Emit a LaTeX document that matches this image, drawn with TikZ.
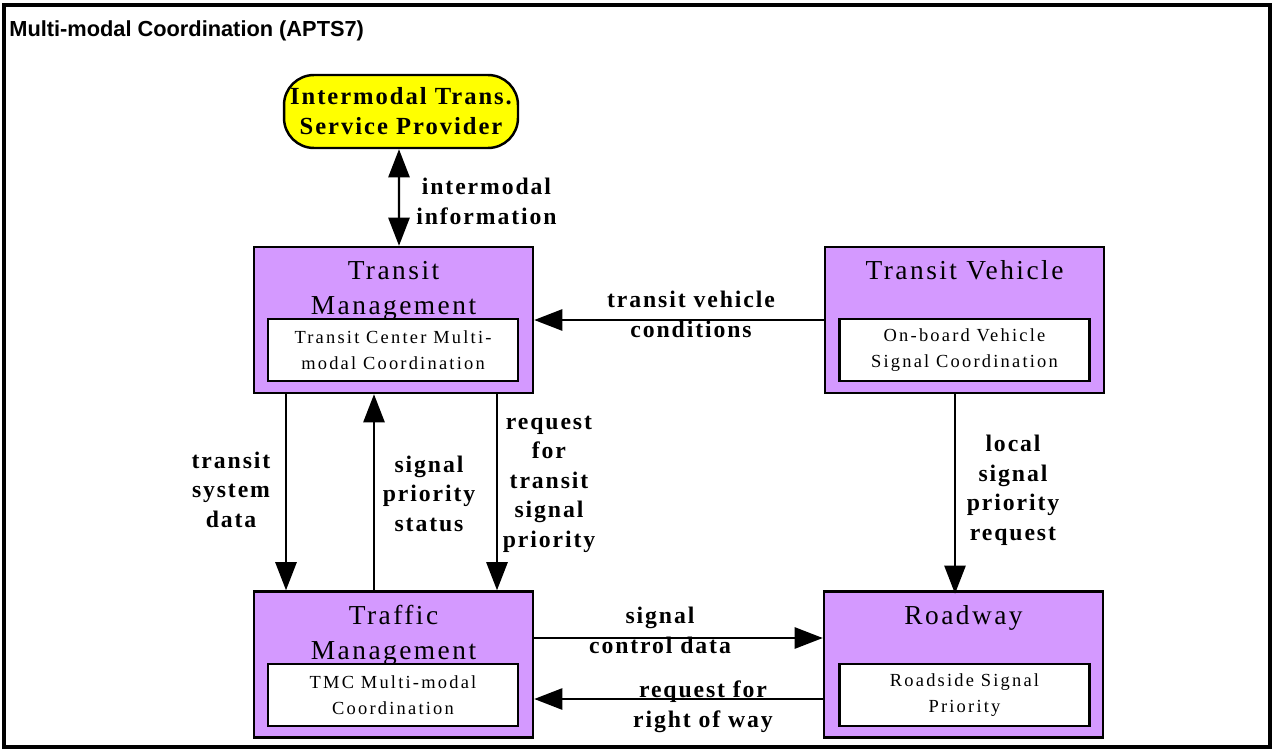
\documentclass[tikz,border=0pt]{standalone}
\usepackage{fontspec}
\setmainfont{Liberation Serif}
\newfontfamily\titlefont{Liberation Sans}
\newfontfamily\boxfont[LetterSpace=9]{Liberation Serif}
\newfontfamily\pkgfont[LetterSpace=12]{Liberation Serif}
\newfontfamily\flowfont[LetterSpace=8]{Liberation Serif}
\usetikzlibrary{arrows.meta, calc}
\definecolor{sysfill}{RGB}{212,153,255}
\definecolor{termfill}{RGB}{255,255,0}

\begin{document}
\begin{tikzpicture}
      [x=.02cm,y=-.02cm
      ,sys/.style={draw,fill=sysfill,line width=1.4pt,minimum width=5.58cm,minimum height=2.92cm,inner sep=0}
      ,term/.style={draw,fill=termfill,line width=1.4pt,rounded corners=.6cm,minimum width=4.68cm,minimum height=1.46cm,inner sep=0
                   ,align=center,font=\flowfont\bfseries\fontsize{14}{17}\selectfont}
      ,pkg/.style={draw,fill=white,line width=1.4pt,minimum width=5cm,minimum height=1.25cm,inner sep=0
                  ,align=center,font=\pkgfont\fontsize{10.5}{14.8}\selectfont}
      ,ttl/.style={anchor=base,inner sep=0,align=center,font=\boxfont\fontsize{15.6}{19.8}\selectfont}
      ,lbl/.style={anchor=base,inner sep=0,align=center,font=\flowfont\bfseries\fontsize{13.5}{16.7}\selectfont}
      ,flow/.style={line width=1.4pt,-{Triangle[length=16pt,width=12pt]}}
      ,both/.style={line width=1.4pt,{Triangle[length=16pt,width=12pt]}-{Triangle[length=16pt,width=12pt]}}]
        \useasboundingbox (0,0) rectangle (1274,750);
        \draw[line width=2pt] (4,5) rectangle (1270,747);
        \node[anchor=base west,inner sep=0,font=\titlefont\bfseries\fontsize{12.4}{14}\selectfont]
          (title) at (9,37) {Multi-modal Coordination (APTS7)};
        % terminator and systems
        \node[term] (itsp) at (401,111.5) {Intermodal Trans.\\Service Provider};
        \node[sys] (tm)  at (393.5,320) {};
        \node[sys] (tv)  at (964.5,320) {};
        \node[sys] (trm) at (393.5,664.5) {};
        \node[sys] (rw)  at (963.5,664.5) {};
        \node[ttl] (tmt)  at (393.5,314) {Transit\\Management};
        \node[ttl] (tvt)  at (964.5,279) {Transit Vehicle};
        \node[ttl] (trmt) at (393.5,659) {Traffic\\Management};
        \node[ttl] (rwt)  at (963.5,624) {Roadway};
        \node[pkg] (tmp)  at (393,350)   {Transit Center Multi-\\modal Coordination};
        \node[pkg] (tvp)  at (964.5,350) {On-board Vehicle\\Signal Coordination};
        \node[pkg] (trmp) at (393,695)   {TMC Multi-modal\\Coordination};
        \node[pkg] (rwp)  at (964.5,695) {Roadside Signal\\Priority};
        % flows
        \draw[both] ($(itsp.south)+(-2,0)$) -- ($(tm.north)+(5.5,0)$);
        \node[lbl,anchor=base west] (l1) at (416,224) {intermodal\\information};
        \draw[flow] (tv.west) -- (tm.east);
        \node[lbl] (l2) at (691,337) {transit vehicle\\conditions};
        \draw[flow] ($(tm.south)+(-107.5,0)$) -- ($(trm.north)+(-107.5,0)$);
        \node[lbl] (l3) at (231,527) {transit\\system\\data};
        \draw[flow] ($(trm.north)+(-19.5,0)$) -- ($(tm.south)+(-19.5,0)$);
        \node[lbl] (l4) at (429,531) {signal\\priority\\status};
        \draw[flow] ($(tm.south)+(103.5,0)$) -- ($(trm.north)+(103.5,0)$);
        \node[lbl] (l5) at (549,547) {request\\for\\transit\\signal\\priority};
        \draw[flow] ($(tv.south)+(-9.5,0)$) -- ($(rw.south)+(-8.5,-145)$);
        \node[lbl] (l6) at (1013,540) {local\\signal\\priority\\request};
        \draw[flow] ($(trm.east)+(0,-26.5)$) -- ($(rw.west)+(0,-26.5)$);
        \node[lbl] (l7) at (660,653) {signal\\control data};
        \draw[flow] ($(rw.west)+(0,34.5)$) -- ($(trm.east)+(0,34.5)$);
        \node[lbl] (l8) at (703,727) {request for\\right of way};
      \end{tikzpicture}
\end{document}
